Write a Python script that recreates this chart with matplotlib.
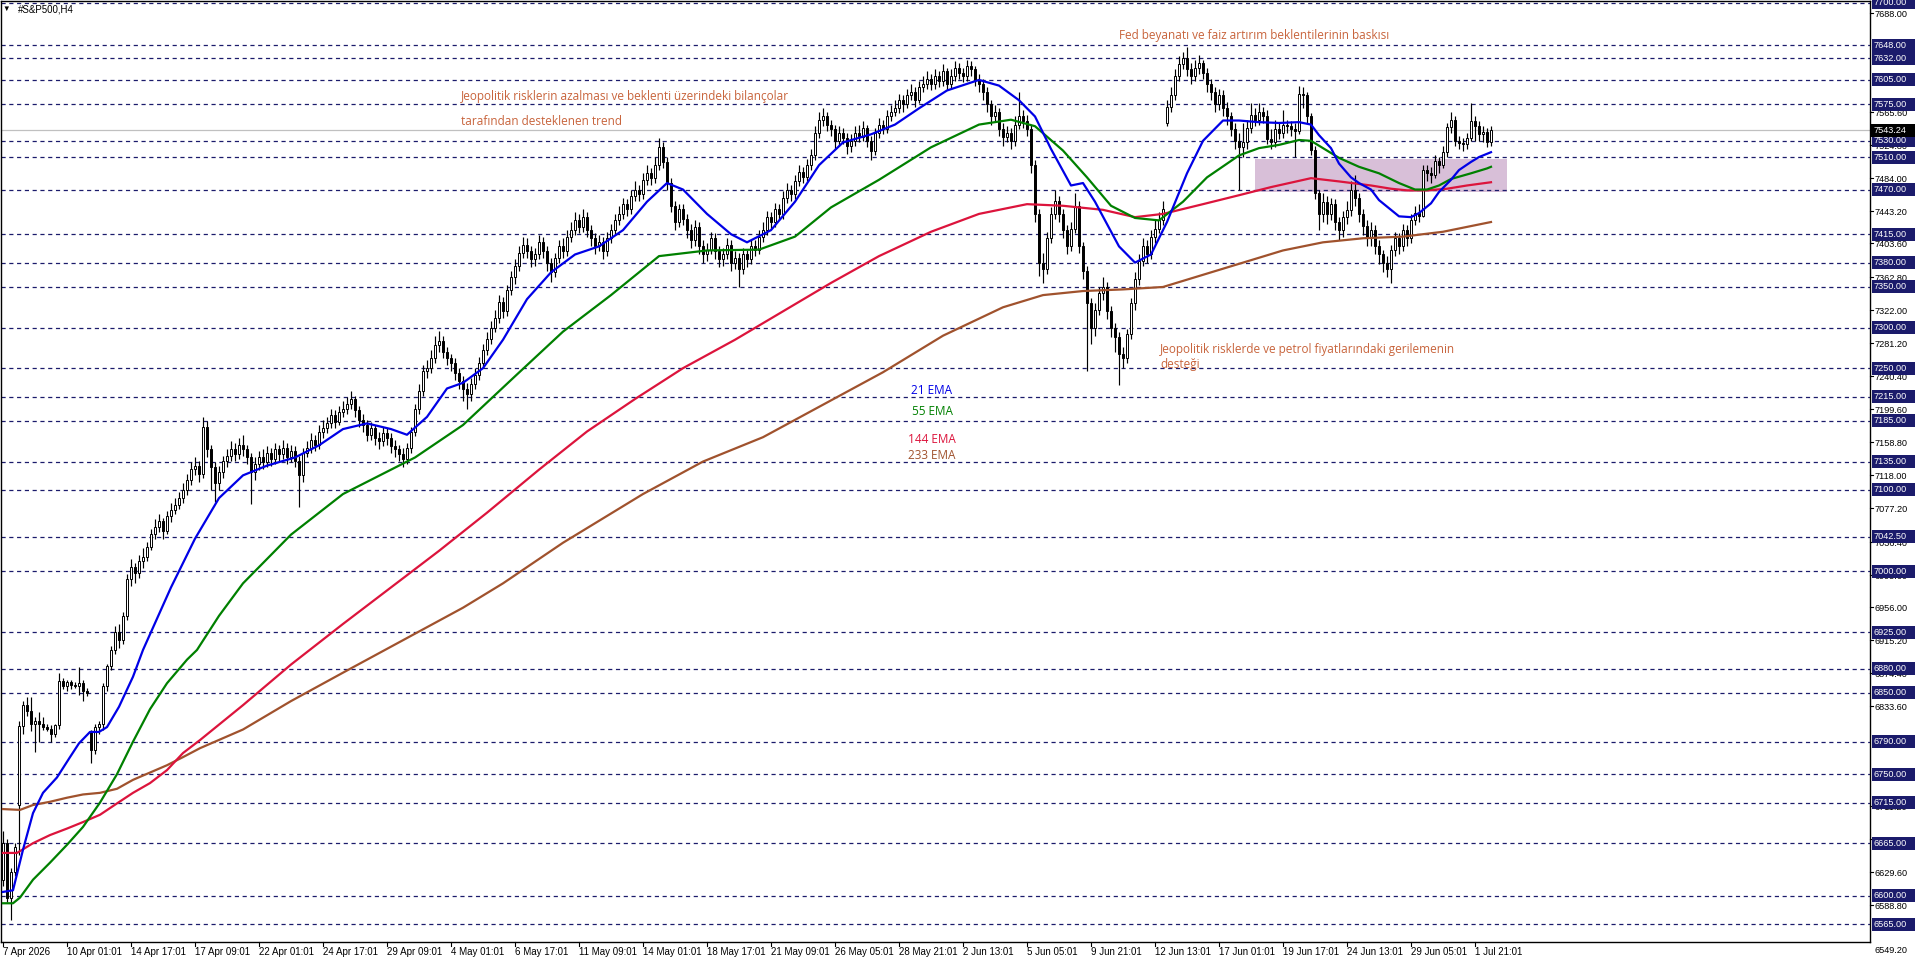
import numpy as np
import matplotlib
matplotlib.use("Agg")
import matplotlib.pyplot as plt
import matplotlib.transforms as mtransforms
from matplotlib.patches import Rectangle

# ---------------- data (H4 bars, bar 0 = 7 Apr 2026) ----------------
closes = [
    6665, 6598, 6630, 6660, 6809, 6835, 6828, 6812, 6816, 6812, 6808, 6806, 6800, 6810, 6865, 6858, 6863, 6860, 6859, 6862, 6852, 6850, 6780, 6808, 6812, 6859, 6883, 6903,
    6925, 6915, 6945, 6990, 7005, 6998, 7012, 7018, 7030, 7046, 7055, 7062, 7050, 7068, 7075, 7082, 7090, 7100, 7112, 7126, 7130, 7120, 7178,
    7150, 7128, 7108, 7122, 7136, 7142, 7150, 7144, 7156, 7150, 7140, 7122, 7132, 7140, 7134, 7146, 7138, 7150, 7144, 7152, 7140, 7148, 7136, 7118, 7146,
    7152, 7162, 7155, 7172, 7176, 7182, 7192, 7184, 7196, 7200, 7206, 7212, 7198, 7186, 7180, 7168, 7176, 7164, 7160, 7170, 7164, 7154, 7150, 7144, 7138, 7152,
    7172, 7200, 7222, 7246, 7250, 7262, 7278, 7284, 7270, 7262, 7256, 7244, 7234, 7224, 7218, 7230, 7242,
    7256, 7272, 7286, 7300, 7312, 7332, 7320, 7346, 7362, 7376, 7392, 7402, 7394, 7384, 7390, 7406,
    7394, 7380, 7368, 7386, 7400, 7394, 7412, 7420, 7432, 7424, 7436, 7420, 7410, 7400, 7406, 7394, 7410, 7420,
    7432, 7440, 7452, 7446, 7462, 7470, 7464, 7482, 7490, 7484, 7500, 7522, 7504, 7478, 7450, 7430, 7446, 7434,
    7420, 7408, 7424, 7400, 7390, 7396, 7410, 7394, 7384, 7390, 7402, 7380, 7386, 7372, 7390, 7384, 7400, 7396, 7412,
    7420, 7436, 7430, 7446, 7440, 7460, 7470, 7464, 7480, 7492, 7486, 7500, 7512, 7540, 7556, 7560, 7550, 7544, 7530, 7540, 7534, 7524, 7530, 7540,
    7535, 7546, 7530, 7518, 7540, 7550, 7545, 7560, 7566, 7570, 7580, 7575, 7586, 7590, 7580, 7596, 7600, 7606, 7600, 7610, 7604, 7616, 7600, 7610, 7620, 7614, 7610, 7622, 7618, 7605, 7600,
    7590, 7575, 7560, 7566, 7545, 7535, 7540, 7530, 7550, 7560, 7555, 7545, 7500, 7440, 7380, 7372, 7410, 7440, 7456,
    7440, 7420, 7400, 7422, 7450, 7400, 7370, 7330, 7300, 7322, 7342, 7350, 7320, 7300, 7288, 7268, 7262, 7292, 7330, 7360, 7382, 7400, 7390, 7412, 7422, 7432, 7446,
    7572, 7586, 7610, 7625, 7632, 7618, 7610, 7620, 7626, 7614, 7600, 7590, 7575, 7586, 7570, 7560, 7545, 7530, 7522,
    7528, 7546, 7562, 7556, 7566, 7560, 7532, 7528, 7545, 7540, 7550, 7548, 7545, 7542, 7588, 7586, 7560, 7519, 7466, 7440,
    7455, 7440, 7452, 7430, 7420, 7436, 7445, 7470, 7460, 7440, 7425, 7410, 7420, 7400, 7390, 7380, 7372, 7396, 7410, 7400, 7420, 7410, 7432, 7441, 7438,
    7494, 7490, 7488, 7505, 7500, 7516, 7547, 7556, 7530, 7527, 7526, 7534, 7555, 7548, 7538, 7541, 7528, 7543,
]
highs = [
    6680, 6670, 6634, 6665, 6815, 6840, 6845, 6845, 6820, 6826, 6820, 6812, 6810, 6812, 6875, 6868, 6866, 6866, 6864, 6882, 6866, 6856, 6805, 6812, 6816, 6862, 6886, 6908,
    6932, 6935, 6950, 6996, 7015, 7010, 7020, 7028, 7036, 7052, 7064, 7070, 7066, 7074, 7084, 7090, 7098, 7108, 7120, 7134, 7140, 7136, 7190,
    7185, 7156, 7134, 7130, 7142, 7150, 7160, 7158, 7164, 7168, 7156, 7146, 7140, 7148, 7150, 7154, 7152, 7158, 7156, 7162, 7158, 7156, 7154, 7142, 7152,
    7160, 7170, 7168, 7180, 7186, 7190, 7200, 7198, 7204, 7210, 7214, 7222, 7216, 7204, 7194, 7186, 7184, 7180, 7172, 7178, 7176, 7170, 7162, 7156, 7152, 7158,
    7178, 7206, 7230, 7254, 7260, 7272, 7290, 7296, 7290, 7276, 7268, 7262, 7250, 7240, 7232, 7238, 7250,
    7264, 7280, 7294, 7308, 7322, 7340, 7338, 7352, 7370, 7384, 7400, 7412, 7410, 7400, 7398, 7414,
    7412, 7400, 7386, 7392, 7408, 7410, 7420, 7430, 7442, 7440, 7446, 7442, 7426, 7416, 7414, 7412, 7418, 7428,
    7440, 7450, 7460, 7458, 7470, 7480, 7476, 7490, 7500, 7496, 7510, 7534, 7528, 7510, 7484, 7456, 7452, 7452,
    7440, 7428, 7432, 7430, 7408, 7404, 7418, 7416, 7400, 7398, 7410, 7408, 7394, 7392, 7398, 7396, 7408, 7408, 7420,
    7430, 7444, 7442, 7454, 7452, 7468, 7478, 7476, 7488, 7500, 7498, 7508, 7520, 7548, 7566, 7570, 7566, 7556, 7550, 7548, 7546, 7540, 7538, 7548,
    7550, 7554, 7550, 7536, 7546, 7558, 7556, 7568, 7574, 7580, 7588, 7586, 7594, 7600, 7596, 7604, 7610, 7616, 7612, 7618, 7616, 7624, 7620, 7618, 7628, 7626, 7620, 7630, 7628, 7622, 7612,
    7606, 7596, 7580, 7574, 7570, 7552, 7548, 7546, 7560, 7590, 7568, 7562, 7550, 7506, 7446, 7392, 7418, 7448, 7470,
    7462, 7446, 7426, 7430, 7466, 7456, 7406, 7376, 7336, 7330, 7350, 7362, 7356, 7326, 7306, 7294, 7276, 7298, 7336, 7368, 7390, 7410, 7408, 7420, 7432, 7442, 7456,
    7580, 7596, 7618, 7634, 7640, 7646, 7626, 7630, 7636, 7630, 7620, 7606, 7596, 7594, 7592, 7578, 7566, 7552, 7540,
    7552, 7556, 7577, 7570, 7577, 7572, 7568, 7544, 7556, 7552, 7568, 7556, 7554, 7552, 7598, 7596, 7590, 7564, 7524, 7470,
    7466, 7462, 7460, 7458, 7436, 7444, 7456, 7480, 7488, 7466, 7446, 7432, 7430, 7426, 7408, 7396, 7388, 7402, 7418, 7416, 7428, 7426, 7440, 7450, 7452,
    7500, 7500, 7498, 7512, 7510, 7524, 7552, 7566, 7560, 7536, 7534, 7540, 7577, 7560, 7554, 7548, 7546, 7548,
]
lows = [
    6612, 6592, 6570, 6625, 6650, 6800, 6822, 6803, 6777, 6790, 6804, 6803, 6790, 6796, 6806, 6855, 6852, 6855, 6856, 6848, 6840, 6846, 6764, 6775, 6800, 6805, 6852, 6878,
    6898, 6905, 6910, 6940, 6982, 6985, 6992, 7004, 7012, 7026, 7040, 7048, 7040, 7046, 7060, 7070, 7076, 7084, 7094, 7106, 7118, 7110, 7115,
    7140, 7100, 7085, 7100, 7115, 7128, 7136, 7136, 7138, 7142, 7132, 7083, 7112, 7124, 7126, 7128, 7130, 7132, 7136, 7138, 7132, 7134, 7128, 7079, 7110,
    7140, 7146, 7148, 7150, 7164, 7170, 7176, 7176, 7180, 7190, 7194, 7200, 7190, 7178, 7172, 7160, 7162, 7156, 7150, 7154, 7156, 7146, 7140, 7136, 7128, 7132,
    7146, 7166, 7194, 7216, 7238, 7244, 7256, 7270, 7262, 7254, 7246, 7236, 7224, 7210, 7200, 7210, 7224,
    7236, 7250, 7266, 7280, 7294, 7306, 7312, 7314, 7340, 7354, 7370, 7386, 7386, 7374, 7376, 7384,
    7386, 7370, 7356, 7362, 7380, 7386, 7388, 7406, 7414, 7416, 7418, 7412, 7400, 7390, 7394, 7384, 7388, 7404,
    7414, 7426, 7434, 7438, 7440, 7456, 7456, 7458, 7476, 7476, 7478, 7494, 7496, 7470, 7442, 7420, 7424, 7426,
    7410, 7398, 7400, 7390, 7380, 7382, 7390, 7384, 7374, 7376, 7384, 7370, 7372, 7350, 7366, 7374, 7378, 7388, 7390,
    7406, 7414, 7422, 7424, 7432, 7434, 7454, 7456, 7458, 7474, 7478, 7480, 7494, 7506, 7534, 7548, 7542, 7536, 7520, 7524, 7526, 7514, 7516, 7524,
    7528, 7530, 7522, 7506, 7512, 7534, 7538, 7540, 7554, 7560, 7564, 7566, 7570, 7580, 7572, 7576, 7590, 7594, 7592, 7594, 7596, 7598, 7592, 7594, 7604, 7606, 7602, 7604, 7610, 7598, 7590,
    7580, 7566, 7550, 7554, 7536, 7524, 7528, 7520, 7524, 7544, 7546, 7536, 7490, 7430, 7364, 7355, 7366, 7404, 7434,
    7430, 7410, 7390, 7394, 7416, 7392, 7360, 7247, 7280, 7290, 7316, 7334, 7310, 7288, 7270, 7229, 7250, 7256, 7286, 7322, 7352, 7376, 7380, 7384, 7404, 7416, 7426,
    7548, 7566, 7580, 7604, 7618, 7610, 7600, 7604, 7612, 7606, 7590, 7580, 7566, 7568, 7560, 7550, 7536, 7520, 7470,
    7510, 7520, 7540, 7548, 7550, 7552, 7526, 7520, 7522, 7532, 7534, 7540, 7536, 7510, 7538, 7570, 7552, 7512, 7458, 7420,
    7430, 7428, 7432, 7420, 7408, 7412, 7428, 7438, 7450, 7430, 7414, 7400, 7400, 7390, 7378, 7368, 7362, 7355, 7388, 7390, 7394, 7400, 7404, 7426, 7430,
    7436, 7480, 7478, 7484, 7490, 7496, 7510, 7540, 7524, 7520, 7518, 7520, 7530, 7530, 7530, 7528, 7522, 7524,
]
first_open = 6620
gap_opens = {4: 6712, 22: 6802, 291: 7552}   # weekend gaps

ema21_bars = [0, 2.5, 5, 7.5, 10, 13.5, 16.75, 19, 21.75, 24, 26, 29, 32.5, 35, 37, 42, 48, 54, 60, 66, 73, 79, 85, 91, 97, 101, 106, 111, 115, 120, 125, 131, 137, 143, 149, 155, 161, 166, 170, 176, 182, 186, 192, 198, 204, 210, 217, 223, 229, 236, 244, 249, 254, 258, 262, 267, 270, 273, 279, 283, 287, 291, 296, 300, 305, 309, 314, 319, 324, 327, 329, 332, 334, 337, 339, 342, 344, 347, 349, 352, 354, 357, 359, 362, 364, 367, 369, 372]
ema21_vals = [6605, 6607, 6657, 6702, 6727, 6746, 6771, 6788, 6802, 6802, 6808, 6833, 6870, 6903, 6925, 6980, 7040, 7090, 7118, 7130, 7140, 7155, 7175, 7182, 7175, 7168, 7190, 7225, 7232, 7250, 7285, 7335, 7368, 7390, 7400, 7420, 7455, 7478, 7470, 7440, 7415, 7405, 7420, 7455, 7500, 7528, 7538, 7550, 7570, 7592, 7605, 7598, 7580, 7560, 7520, 7475, 7478, 7455, 7400, 7380, 7390, 7430, 7490, 7530, 7555, 7555, 7553, 7552, 7553, 7550, 7537, 7521, 7502, 7485, 7478, 7470, 7457, 7445, 7437, 7436, 7441, 7453, 7467, 7482, 7494, 7504, 7510, 7516]

ema55_bars = [0, 2.5, 4.25, 7.5, 11.75, 16, 20, 24.25, 28.5, 32.5, 36.75, 41, 46, 48.5, 54, 60, 72, 85, 97, 103, 115, 128, 140, 152, 164, 176, 189, 198, 207, 219, 232, 244, 252, 258, 265, 271, 277, 283, 289, 295, 301, 309, 314, 319, 324, 327, 330, 334, 339, 344, 349, 353, 356, 359, 362, 367, 371, 372]
ema55_vals = [6591, 6591, 6598, 6620, 6641, 6663, 6685, 6715, 6750, 6790, 6830, 6862, 6891, 6903, 6945, 6985, 7045, 7095, 7125, 7140, 7180, 7240, 7295, 7340, 7388, 7395, 7396, 7412, 7448, 7482, 7522, 7550, 7556, 7548, 7518, 7485, 7450, 7435, 7432, 7455, 7485, 7512, 7521, 7525, 7531, 7530, 7521, 7509, 7498, 7490, 7478, 7470, 7470, 7475, 7483, 7490, 7496, 7498]

ema144_bars = [0, 3.5, 7.5, 11.75, 16, 20, 24.25, 28.5, 32.5, 36.75, 41, 45, 49.25, 60, 72, 85, 97, 109, 121, 134, 146, 158, 170, 183, 195, 207, 219, 232, 244, 256, 265, 275, 283, 290, 300, 309, 317, 327, 334, 342, 347, 351, 356, 361, 366, 372]
ema144_vals = [6653, 6653, 6665, 6675, 6683, 6691, 6700, 6714, 6727, 6739, 6755, 6776, 6792, 6835, 6885, 6935, 6980, 7025, 7072, 7125, 7172, 7212, 7250, 7285, 7320, 7355, 7388, 7418, 7440, 7452, 7450, 7445, 7436, 7440, 7452, 7463, 7473, 7484, 7480, 7475, 7471, 7469, 7469, 7471, 7475, 7479]

ema233_bars = [0, 4.25, 7.5, 11.75, 16, 20, 24.25, 28.5, 32.5, 36.75, 41, 45, 49.25, 60, 72, 85, 100, 115, 125, 140, 160, 175, 190, 205, 220, 235, 250, 260, 270, 280, 290, 300, 310, 320, 330, 340, 350, 360, 372]
ema233_vals = [6707, 6706, 6712, 6716, 6721, 6725, 6727, 6732, 6743, 6752, 6761, 6771, 6782, 6805, 6840, 6875, 6915, 6955, 6985, 7035, 7095, 7135, 7165, 7205, 7245, 7290, 7325, 7340, 7345, 7347, 7350, 7365, 7380, 7395, 7405, 7410, 7412, 7418, 7430]

levels = [7700, 7648, 7632, 7605, 7575, 7530, 7510, 7470, 7415, 7380, 7350, 7300, 7250, 7215,
          7185, 7135, 7100, 7042.5, 7000, 6925, 6880, 6850, 6790, 6750, 6715, 6665, 6600, 6565]
price_ticks = [7688.0, 7565.6, 7524.8, 7484.0, 7443.2, 7403.6, 7362.8, 7322.0,
               7281.2, 7240.4, 7199.6, 7158.8, 7118.0, 7077.2, 7036.4, 6995.6, 6956.0, 6915.2,
               6874.4, 6833.6, 6711.2, 6670.4, 6629.6, 6588.8]
bottom_tick = 6549.2
last_price = 7543.24

date_labels = ["7 Apr 2026", "10 Apr 01:01", "14 Apr 17:01", "17 Apr 09:01", "22 Apr 01:01",
               "24 Apr 17:01", "29 Apr 09:01", "4 May 01:01", "6 May 17:01", "11 May 09:01",
               "14 May 01:01", "18 May 17:01", "21 May 09:01", "26 May 05:01", "28 May 21:01",
               "2 Jun 13:01", "5 Jun 05:01", "9 Jun 21:01", "12 Jun 13:01", "17 Jun 01:01",
               "19 Jun 17:01", "24 Jun 13:01", "29 Jun 05:01", "1 Jul 21:01"]
date_bars = list(range(0, 16 * len(date_labels), 16))

zone_bars = (313, 376)
zone_prices = (7467, 7508)

assert len(closes) == len(highs) == len(lows) == 373

opens = [first_open] + closes[:-1]
for k, v in gap_opens.items():
    opens[k] = v

# ---------------- figure ----------------
plt.rcParams['font.family'] = ['Liberation Sans', 'DejaVu Sans']
plt.rcParams['lines.scale_dashes'] = False

W, H = 1916, 963
fig = plt.figure(figsize=(W / 100, H / 100), dpi=100)
fig.patch.set_facecolor('white')
ax = fig.add_axes([1 / W, 1 - 942 / H, 1869 / W, 941 / H])
ax.set_xlim(-0.5, 466.75)
ax.set_ylim(6543.3, 7702.2)
ax.set_xticks([])
ax.set_yticks([])
for s in ax.spines.values():
    s.set_color('black')
    s.set_linewidth(1)

pxT = mtransforms.Affine2D().scale(1 / W, -1 / H).translate(0, 1) + fig.transFigure
rT = mtransforms.blended_transform_factory(pxT, ax.transData)
bT = mtransforms.blended_transform_factory(ax.transData, pxT)
navy = '#1b1b6b'
ppx = 1.2315  # price per pixel
axfs = 6.6

# zone rectangle
ax.add_patch(Rectangle((zone_bars[0], zone_prices[0]), zone_bars[1] - zone_bars[0],
                       zone_prices[1] - zone_prices[0], facecolor='#d8bfd8',
                       edgecolor='none', zorder=0.5))

# horizontal levels
for lv in levels:
    ax.axhline(lv, color=navy, lw=0.9, ls=(0, (3.0, 2.6)), zorder=1)
ax.axhline(last_price, color='#c0c0c0', lw=0.9, zorder=1)

# candles
x = np.arange(len(closes))
o = np.array(opens, float)
c = np.array(closes, float)
h = np.array(highs, float)
l = np.array(lows, float)
ax.vlines(x, l, h, color='black', lw=0.85, zorder=3)
up = c >= o
body = np.maximum(np.abs(c - o), 0.8)
ax.bar(x[up], body[up], bottom=np.minimum(o, c)[up], width=0.62,
       facecolor='white', edgecolor='black', lw=0.7, zorder=4)
ax.bar(x[~up], body[~up], bottom=np.minimum(o, c)[~up], width=0.62,
       facecolor='black', edgecolor='black', lw=0.7, zorder=4)

# EMAs
ax.plot(ema233_bars, ema233_vals, color='#a0522d', lw=1.6, zorder=5)
ax.plot(ema144_bars, ema144_vals, color='#dc143c', lw=1.6, zorder=5)
ax.plot(ema55_bars, ema55_vals, color='#008000', lw=1.6, zorder=5)
ax.plot(ema21_bars, ema21_vals, color='#0000e6', lw=1.6, zorder=5)

# EMA legend texts
afont = ['Open Sans', 'DejaVu Sans']
afs = 8.5
for txt, yv, col in [("21 EMA", 7223.0, '#0000e6'), ("55 EMA", 7197.0, '#008000'),
                     ("144 EMA", 7162.5, '#dc143c'), ("233 EMA", 7143.0, '#a0522d')]:
    ax.text(232.25, yv, txt, color=col, fontsize=afs, family=afont,
            ha='center', va='center', zorder=6)

# annotations
acol = '#c8643c'
ax.text(114.5, 7585.2, "Jeopolitik risklerin azalması ve beklenti üzerindeki bilançolar",
        color=acol, fontsize=afs, family=afont, ha='left', va='center', zorder=6)
ax.text(114.5, 7554.4, "tarafından desteklenen trend",
        color=acol, fontsize=afs, family=afont, ha='left', va='center', zorder=6)
ax.text(279.0, 7660.3, "Fed beyanatı ve faiz artırım beklentilerinin baskısı",
        color=acol, fontsize=afs, family=afont, ha='left', va='center', zorder=6)
ax.text(289.25, 7273.6, "Jeopolitik risklerde ve petrol fiyatlarındaki gerilemenin",
        color=acol, fontsize=afs, family=afont, ha='left', va='center', zorder=6)
ax.text(289.25, 7254.8, "desteği",
        color=acol, fontsize=afs, family=afont, ha='left', va='center', zorder=6)

# right price scale
for pt in price_ticks:
    ax.plot([1870, 1873], [pt, pt], color='black', lw=0.8, transform=rT, clip_on=False)
    ax.text(1875, pt - 1.5 * ppx, f"{pt:.2f}", transform=rT, fontsize=axfs,
            ha='left', va='center', color='black', clip_on=False, zorder=6)
ax.text(1875, -0.009, f"{bottom_tick:.2f}",
        transform=mtransforms.blended_transform_factory(pxT, ax.transAxes),
        fontsize=axfs, ha='left', va='center', color='black', clip_on=False)
for lv in levels:
    ax.add_patch(Rectangle((1872, lv - 6.5 * ppx), 43, 13 * ppx, transform=rT,
                           facecolor=navy, edgecolor='none', clip_on=False, zorder=7))
    ax.text(1874, lv, f"{lv:.2f}", transform=rT, fontsize=axfs, ha='left', va='center',
            color='white', clip_on=False, zorder=8)
ax.add_patch(Rectangle((1871, last_price - 6.5 * ppx), 44, 13 * ppx, transform=rT,
                       facecolor='black', edgecolor='none', clip_on=False, zorder=9))
ax.text(1874, last_price, f"{last_price:.2f}", transform=rT, fontsize=axfs, ha='left',
        va='center', color='white', clip_on=False, zorder=10)

# time scale
for b, lab in zip(date_bars, date_labels):
    ax.plot([b, b], [942, 946], color='black', lw=0.8, transform=bT, clip_on=False)
    ax.text(b - 0.1, 952, lab, transform=bT, fontsize=7, ha='left', va='center',
            color='black', clip_on=False)

# title in the corner
fig.text(6, 9, "▼", transform=pxT, fontsize=5.5, ha='center', va='center', color='black')
fig.text(18, 9, "#S&P500,H4", transform=pxT, fontsize=7, ha='left', va='center', color='black')

fig.savefig("out.png", dpi=100, facecolor='white')
